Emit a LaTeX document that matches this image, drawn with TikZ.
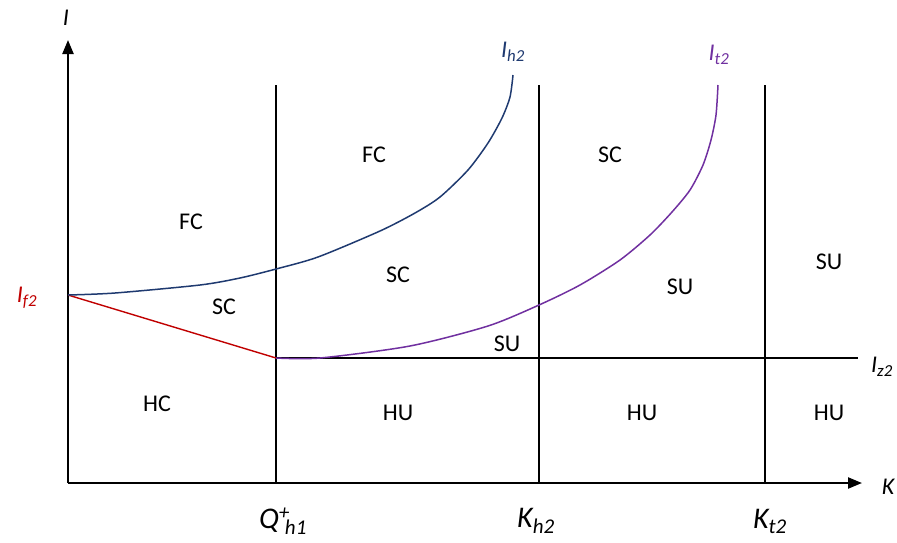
\documentclass[tikz,border=0pt]{standalone}
\usepackage{fontspec}
\setmainfont{Carlito}
\usepackage{tikz}
\usetikzlibrary{arrows.meta}
\definecolor{Marino}{HTML}{1F3A70}
\definecolor{Morado}{HTML}{7030A0}
\definecolor{Rojo}{HTML}{C00000}

\begin{document}
\begin{tikzpicture}[
  x=1pt,y=-1pt,
  every node/.style={font=\fontsize{24}{28}\selectfont,inner sep=0pt},
  axis/.style={-{Triangle[length=14pt,width=11pt]},line width=2.2pt},
  grid/.style={line width=1.4pt},
  region/.style={},
  lbl/.style={font=\fontsize{24}{28}\selectfont\itshape},
  tick/.style={font=\fontsize{30}{34}\selectfont\itshape}
]
  \useasboundingbox (0,0) rectangle (897,542);
  % ejes
  \coordinate (O) at (68,483);
  \coordinate (ytop) at (68,40);
  \coordinate (xend) at (862,483);
  \draw[axis] (O) -- (ytop);
  \draw[axis] (O) -- (xend);
  \node[lbl] (yl) at (66,18) {I};
  \node[lbl] (xl) at (888,487) {K};

  % verticales
  \coordinate (q1) at (276,85);  \coordinate (q0) at (276,483);
  \coordinate (k1) at (539,85);  \coordinate (k0) at (539,483);
  \coordinate (t1) at (765,85);  \coordinate (t0) at (765,483);
  \draw[grid] (q1) -- (q0);
  \draw[grid] (k1) -- (k0);
  \draw[grid] (t1) -- (t0);

  % umbral Iz2
  \coordinate (z0) at (276,358);
  \coordinate (z1) at (858,358);
  \draw[grid] (z0) -- (z1);
  \node[lbl] (iz) at (882,367) {I\textsubscript{z2}};

  % recta roja
  \coordinate (f0) at (68,295);
  \draw[Rojo,line width=1.4pt] (f0) -- (z0);
  \node[lbl,text=Rojo] (if) at (27,298) {I\textsubscript{f2}};

  % curva Ih2
  \draw[Marino,line width=1.5pt] plot[smooth,tension=0.45] coordinates {
    (68,295) (115,293) (200,285) (240,278) (276,269) (318,257)
    (380,231) (415,213) (440,197) (468,170) (488,143) (502,118)
    (510,97) (513,75)};
  \node[lbl,text=Marino] (ih) at (513,52) {I\textsubscript{h2}};

  % curva It2
  \draw[Morado,line width=1.5pt] plot[smooth,tension=0.45] coordinates {
    (276,358) (320,358) (410,346) (488,326) (539,305) (580,285)
    (620,260) (650,235) (672,212) (690,190) (703,165) (711,140)
    (716,115) (718,85)};
  \node[lbl,text=Morado] (it) at (719,55) {I\textsubscript{t2}};

  % regiones
  \node[region] (fc1) at (191,222) {FC};
  \node[region] (fc2) at (374,155) {FC};
  \node[region] (sc1) at (224,307) {SC};
  \node[region] (sc2) at (398,275) {SC};
  \node[region] (sc3) at (610,155) {SC};
  \node[region] (su1) at (507,344) {SU};
  \node[region] (su2) at (680,287) {SU};
  \node[region] (su3) at (829,262) {SU};
  \node[region] (hc)  at (157,404) {HC};
  \node[region] (hu1) at (398,413) {HU};
  \node[region] (hu2) at (642,413) {HU};
  \node[region] (hu3) at (829,413) {HU};

  % marcas del eje K
  \node[tick] (qh) at (283,521)
    {Q\rlap{\textsuperscript{+}}\textsubscript{\kern6pt h1}};
  \node[tick] (kh) at (536,521) {K\textsubscript{h2}};
  \node[tick] (kt) at (770,521) {K\textsubscript{t2}};
\end{tikzpicture}
\end{document}
